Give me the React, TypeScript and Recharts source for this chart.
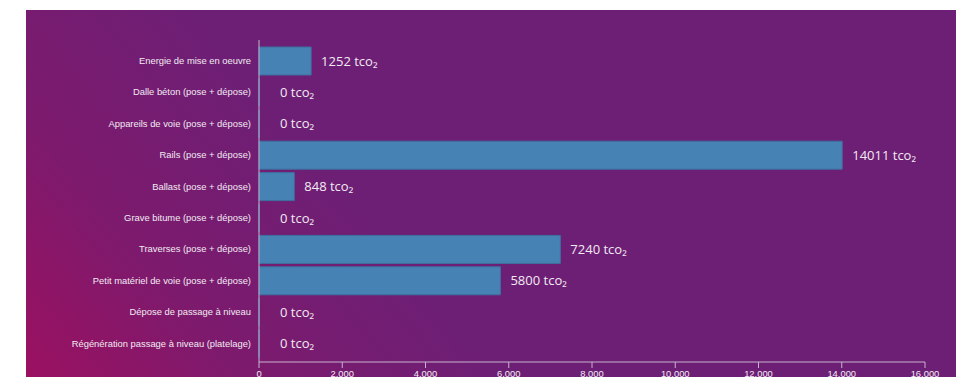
import { BarChart, Bar, XAxis, YAxis, LabelList } from "recharts";

const categories = [
  "Energie de mise en oeuvre",
  "Dalle béton (pose + dépose)",
  "Appareils de voie (pose + dépose)",
  "Rails (pose + dépose)",
  "Ballast (pose + dépose)",
  "Grave bitume (pose + dépose)",
  "Traverses (pose + dépose)",
  "Petit matériel de voie (pose + dépose)",
  "Dépose de passage à niveau",
  "Régénération passage à niveau (platelage)",
];

const values = [1252, 0, 0, 14011, 848, 0, 7240, 5800, 0, 0];

const xTicks = [0, 2000, 4000, 6000, 8000, 10000, 12000, 14000, 16000];

const data = categories.map((name, i) => ({ name, value: values[i] }));

const AXIS_COLOR = "#c9b3cf";
const TEXT_COLOR = "#f2eaf2";
const TICK_FONT = "Arial, 'Liberation Sans', sans-serif";

const ValueLabel = (props: any) => {
  const { x, y, width, height, value } = props;
  const offset = value === 0 ? 21 : 10;
  return (
    <text
      x={x + (value === 0 ? 0 : width) + offset}
      y={y + height / 2}
      dy="0.35em"
      fill={TEXT_COLOR}
      fontSize={13}
      fontFamily="'Open Sans', sans-serif"
    >
      {`${value} tco₂`}
    </text>
  );
};

const CategoryTick = ({ x, y, payload }: any) => (
  <text
    x={x}
    y={y}
    dy="0.35em"
    textAnchor="end"
    fill={TEXT_COLOR}
    fontSize={9.4}
    fontFamily={TICK_FONT}
  >
    {payload.value}
  </text>
);

export default function App() {
  return (
    <div
      style={{
        position: "relative",
        margin: -8,
        width: 964,
        height: 385,
        background: "#fff",
        overflow: "hidden",
      }}
    >
      <div
        style={{
          position: "absolute",
          left: 26,
          top: 10,
          width: 938,
          height: 375,
          background:
            "linear-gradient(50deg, #9c1060 0%, #7d1a6d 18%, #6d1f75 38%, #6d1f75 100%)",
        }}
      />
      <div style={{ position: "absolute", left: 0, top: 0 }}>
        <BarChart
          width={964}
          height={385}
          data={data}
          layout="vertical"
          margin={{ top: 40, right: 39, left: 0, bottom: 0 }}
        >
          <XAxis
            type="number"
            domain={[0, 16000]}
            ticks={xTicks}
            interval={0}
            height={23}
            tickFormatter={(v: number) => v.toLocaleString("en-US")}
            stroke={AXIS_COLOR}
            tick={{ fill: TEXT_COLOR, fontSize: 9.4, fontFamily: TICK_FONT }}
            tickLine={{ stroke: AXIS_COLOR }}
          />
          <YAxis
            type="category"
            dataKey="name"
            width={259}
            interval={0}
            padding={{ top: 5, bottom: 3 }}
            stroke={AXIS_COLOR}
            tickLine={false}
            tick={<CategoryTick />}
          />
          <Bar
            dataKey="value"
            fill="#4682b4"
            stroke="#3d6f9e"
            strokeWidth={1}
            barSize={28}
            minPointSize={0.01}
            isAnimationActive={false}
          >
            <LabelList dataKey="value" content={<ValueLabel />} />
          </Bar>
        </BarChart>
      </div>
    </div>
  );
}
